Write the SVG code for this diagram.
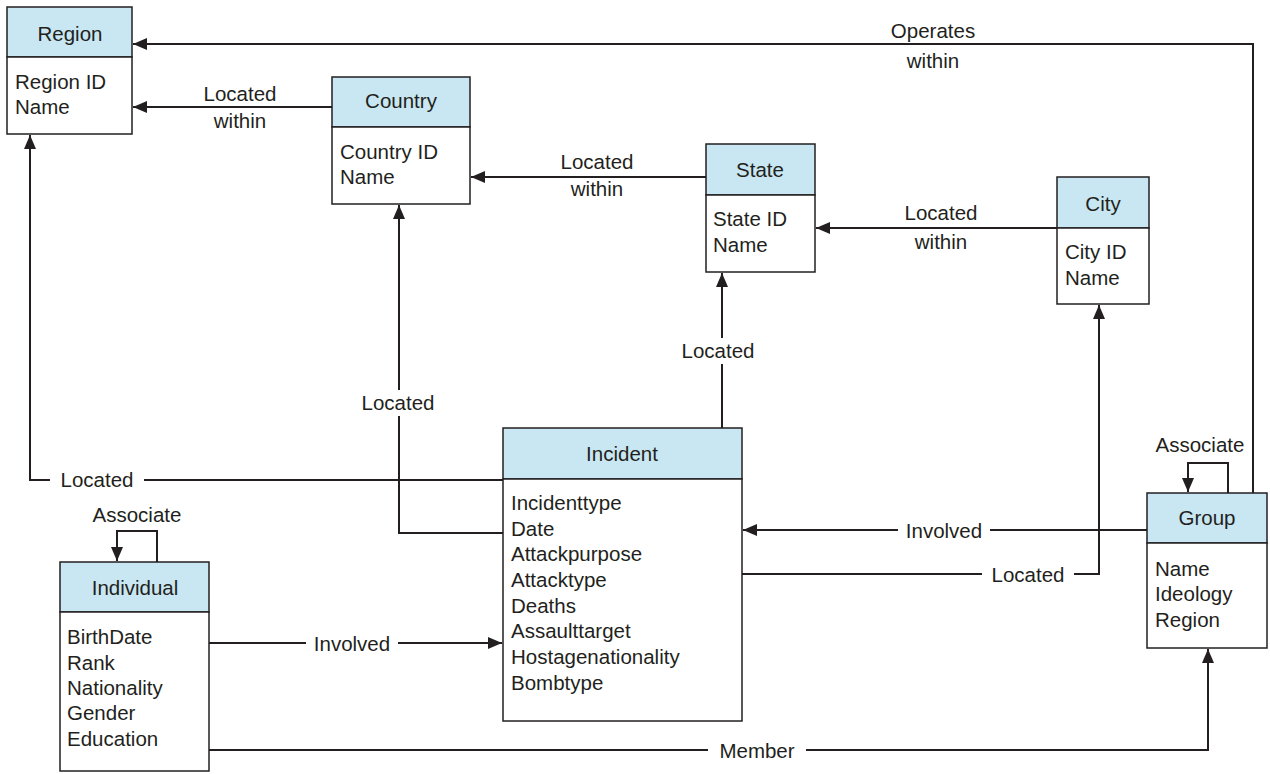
<svg xmlns="http://www.w3.org/2000/svg" width="1270" height="774" viewBox="0 0 1270 774">
<defs>
<marker id="arr" viewBox="0 0 14 12" refX="14" refY="6" markerWidth="14" markerHeight="12" orient="auto" markerUnits="userSpaceOnUse">
<path d="M0,0 L14,6 L0,12 z" fill="#231f20"/>
</marker>
</defs>
<style>
text{font-family:"Liberation Sans",Arial,sans-serif;font-size:20.5px;fill:#231f20}
.hd{fill:#c8e7f2;stroke:#231f20;stroke-width:1.5}
.bd{fill:#ffffff;stroke:#231f20;stroke-width:1.5}
.c{text-anchor:middle}
.ln{fill:none;stroke:#231f20;stroke-width:2}
.a{marker-end:url(#arr)}
.bg{fill:#ffffff}
</style>
<rect width="1270" height="774" fill="#ffffff"/>
<g id="connectors">
<path class="ln a" d="M1253,493 V44 H133"/>
<path class="ln a" d="M332,107 H133"/>
<path class="ln a" d="M706,177 H471"/>
<path class="ln a" d="M1057,228 H816"/>
<path class="ln a" d="M503,480 H30 V135"/>
<path class="ln a" d="M503,533 H399 V205"/>
<path class="ln a" d="M722,428 V273"/>
<path class="ln a" d="M1147,530 H743"/>
<path class="ln a" d="M742,574 H1099 V305"/>
<path class="ln a" d="M209,643 H502"/>
<path class="ln a" d="M209,750 H1208 V649"/>
<path class="ln a" d="M1228,493 V463 H1188 V492"/>
<path class="ln a" d="M157,562 V531 H117 V561"/>
<text class="c" x="933" y="38">Operates</text>
<text class="c" x="933" y="68">within</text>
<text class="c" x="240" y="101">Located</text>
<text class="c" x="240" y="128">within</text>
<text class="c" x="597" y="169">Located</text>
<text class="c" x="597" y="196">within</text>
<text class="c" x="941" y="220">Located</text>
<text class="c" x="941" y="249">within</text>
<rect class="bg" x="50" y="468" width="94" height="24"/>
<text class="c" x="97" y="487">Located</text>
<rect class="bg" x="352" y="390" width="94" height="26"/>
<text class="c" x="398" y="410">Located</text>
<rect class="bg" x="672" y="338" width="94" height="26"/>
<text class="c" x="718" y="358">Located</text>
<rect class="bg" x="898" y="518" width="92" height="24"/>
<text class="c" x="944" y="538">Involved</text>
<rect class="bg" x="982" y="562" width="92" height="24"/>
<text class="c" x="1028" y="582">Located</text>
<rect class="bg" x="306" y="631" width="92" height="24"/>
<text class="c" x="352" y="651">Involved</text>
<rect class="bg" x="708" y="738" width="98" height="24"/>
<text class="c" x="757" y="758">Member</text>
<text class="c" x="1200" y="452">Associate</text>
<text class="c" x="137" y="522">Associate</text>
</g>
<g id="region">
<rect class="hd" x="7" y="7" width="125" height="50"/>
<rect class="bd" x="7" y="57" width="125" height="77"/>
<text class="c" x="70" y="41">Region</text>
<text x="15" y="89">Region ID</text>
<text x="15" y="114">Name</text>
</g>
<g id="country">
<rect class="hd" x="332" y="77" width="138" height="50"/>
<rect class="bd" x="332" y="127" width="138" height="77"/>
<text class="c" x="401" y="108">Country</text>
<text x="340" y="159">Country ID</text>
<text x="340" y="184">Name</text>
</g>
<g id="state">
<rect class="hd" x="706" y="144" width="109" height="51"/>
<rect class="bd" x="706" y="195" width="109" height="77"/>
<text class="c" x="760" y="177">State</text>
<text x="713" y="226">State ID</text>
<text x="713" y="252">Name</text>
</g>
<g id="city">
<rect class="hd" x="1057" y="177" width="92" height="51"/>
<rect class="bd" x="1057" y="228" width="92" height="76"/>
<text class="c" x="1103" y="211">City</text>
<text x="1065" y="259">City ID</text>
<text x="1065" y="285">Name</text>
</g>
<g id="incident">
<rect class="hd" x="503" y="428" width="239" height="51"/>
<rect class="bd" x="503" y="479" width="239" height="242"/>
<text class="c" x="622" y="461">Incident</text>
<text x="511" y="510">Incidenttype</text>
<text x="511" y="536">Date</text>
<text x="511" y="561">Attackpurpose</text>
<text x="511" y="587">Attacktype</text>
<text x="511" y="613">Deaths</text>
<text x="511" y="638">Assaulttarget</text>
<text x="511" y="664">Hostagenationality</text>
<text x="511" y="690">Bombtype</text>
</g>
<g id="group">
<rect class="hd" x="1147" y="493" width="120" height="50"/>
<rect class="bd" x="1147" y="543" width="120" height="105"/>
<text class="c" x="1207" y="525">Group</text>
<text x="1155" y="576">Name</text>
<text x="1155" y="601">Ideology</text>
<text x="1155" y="627">Region</text>
</g>
<g id="individual">
<rect class="hd" x="60" y="562" width="149" height="50"/>
<rect class="bd" x="60" y="612" width="149" height="159"/>
<text class="c" x="135" y="595">Individual</text>
<text x="67" y="644">BirthDate</text>
<text x="67" y="670">Rank</text>
<text x="67" y="695">Nationality</text>
<text x="67" y="720">Gender</text>
<text x="67" y="746">Education</text>
</g>
</svg>
